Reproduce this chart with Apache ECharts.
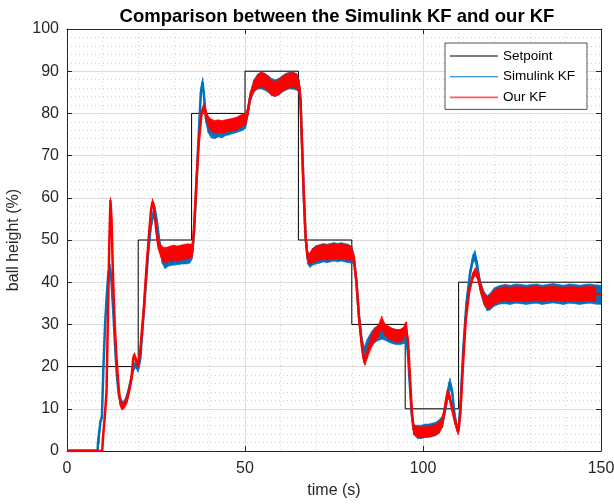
<!DOCTYPE html>
<html>
<head>
<meta charset="utf-8">
<script src="https://cdn.jsdelivr.net/npm/echarts@6/dist/echarts.min.js"></script>
<style>html,body{margin:0;padding:0;background:#fff}#c{width:614px;height:504px}</style>
</head>
<body>
<div id="c"></div>
<script>
var xTicks = [0, 50, 100, 150];
var yTicks = [0, 10, 20, 30, 40, 50, 60, 70, 80, 90, 100];

var setTime = [0, 20, 35, 50, 65, 80, 95, 110, 150];
var setVal  = [20, 50, 80, 90, 50, 30, 10, 40, 40];

// Simulink KF: centre of the noisy trace and half-height of its noise band
var simTime = [0, 8.6, 8.7, 9.0, 9.4, 9.8, 10.2, 10.7, 11.1, 11.6, 12.1, 12.5, 13, 13.5, 14, 14.6, 15.3, 15.8, 16.5, 17.2, 18, 18.6, 19.2, 20, 20.6, 21.3, 22, 22.8, 23.5, 24.2, 24.7, 25.3, 26, 26.7, 27.5, 28.5, 29.5, 30.5, 31.5, 32.5, 33.5, 34.5, 35.2, 35.7, 36.3, 37, 37.6, 38.1, 38.5, 39, 39.6, 40.5, 41.5, 42.5, 43.5, 44.5, 45.5, 46.5, 47.5, 48.5, 49.5, 50.2, 50.8, 51.5, 52.5, 53.5, 54.5, 55.5, 56.5, 57.5, 58.5, 59.5, 60.5, 61.5, 62.5, 63.5, 64.5, 65.2, 65.6, 66, 66.5, 67, 67.6, 68.2, 69, 70, 71, 72, 73, 74, 75, 76, 77, 78, 79, 80, 80.6, 81.3, 82, 82.8, 83.5, 84.3, 85.5, 86.5, 87.5, 88.5, 89.5, 90.5, 91.5, 92.5, 93.5, 94.5, 95.2, 95.7, 96.2, 96.8, 97.4, 98.5, 99.5, 100.5, 101.5, 102.5, 103.5, 104.5, 105.5, 106.5, 107.2, 107.6, 108.2, 108.8, 109.5, 110, 110.6, 111.3, 112.2, 113.2, 114, 114.6, 115.2, 116, 117, 118, 119, 120, 121.5, 123, 124.5, 126, 127.5, 129, 130.5, 132, 133.5, 135, 136.5, 138, 139.5, 141, 142.5, 144, 145.5, 147, 148.5, 150];
var simVal  = [0, 0, 2, 2, 7, 8, 19, 30, 36, 42, 43.5, 40, 33, 25, 18, 13, 11.5, 11, 12, 14, 17, 19.5, 20.5, 19.5, 22, 30, 38, 47, 53, 56, 57, 54, 49, 46, 45, 45.8, 46, 46.3, 46.2, 46.5, 46.3, 46.7, 47, 52, 62, 75, 85, 87.5, 84, 79, 77, 76, 75.8, 76.2, 76, 76.5, 76.7, 77, 77.2, 77.5, 77.8, 78, 80.5, 84, 86.5, 87.5, 87.8, 87.5, 87, 86.3, 86, 86.3, 87, 87.5, 87.8, 87.7, 87.5, 86.5, 83, 73, 61, 51, 45.5, 45, 46, 46.5, 46.7, 47, 46.8, 47, 47.2, 47, 47.2, 47, 46.8, 46.5, 45.5, 40, 32, 26, 23.5, 25, 26.5, 27.5, 28, 28.3, 28, 27.5, 27.2, 27, 27, 27.2, 27, 24, 17, 9, 5, 4.5, 4.5, 4.8, 4.8, 5, 5.2, 5.8, 7, 11, 15, 16, 14, 9, 5.5, 5, 12, 24, 35, 42, 45.5, 46.3, 44, 39.5, 36.5, 35, 35.5, 36.5, 37, 37.2, 37, 37.3, 37.2, 37, 37.2, 37.3, 37, 37.2, 37.4, 37.2, 37, 37.3, 37.2, 37, 37.2, 37.3, 37.1, 37];
var simNoise = [0.3, 0.3, 0.3, 0.3, 0.5, 0.5, 0.5, 0.5, 0.6, 0.8, 0.8, 0.6, 0.5, 0.5, 0.5, 0.6, 0.7, 0.7, 0.7, 0.7, 0.8, 0.8, 0.8, 0.8, 0.6, 0.5, 0.5, 0.6, 0.8, 1.0, 1.0, 1.0, 1.2, 1.5, 1.8, 2.0, 2.0, 2.2, 2.0, 2.2, 2.0, 2.2, 1.5, 0.6, 0.5, 0.6, 0.8, 1.0, 1.0, 1.2, 1.5, 1.8, 1.8, 1.8, 1.8, 1.8, 1.8, 1.8, 1.8, 1.8, 1.8, 1.5, 1.2, 1.2, 1.5, 1.8, 2.0, 2.0, 2.0, 2.0, 2.0, 2.0, 2.0, 2.0, 2.0, 2.0, 2.0, 1.5, 0.8, 0.6, 0.6, 0.8, 1.2, 1.5, 2.0, 2.2, 2.2, 2.2, 2.2, 2.2, 2.2, 2.2, 2.2, 2.2, 2.2, 2.0, 1.2, 0.8, 0.8, 1.0, 1.2, 1.5, 1.8, 1.8, 1.8, 1.8, 1.8, 1.8, 1.8, 1.8, 1.8, 1.8, 1.5, 0.8, 0.6, 0.8, 1.2, 1.6, 1.6, 1.6, 1.6, 1.6, 1.6, 1.6, 1.4, 1.2, 1.2, 1.2, 1.0, 0.8, 0.8, 0.8, 0.6, 0.6, 0.6, 0.8, 1.0, 1.2, 1.2, 1.4, 1.6, 1.8, 2.0, 2.2, 2.2, 2.3, 2.3, 2.3, 2.3, 2.3, 2.3, 2.3, 2.3, 2.3, 2.3, 2.3, 2.3, 2.3, 2.3, 2.3, 2.3, 2.3, 2.3, 2.3];

// Our KF: centre of the noisy trace and half-height of its noise band
var ourTime = [0, 9.9, 10.1, 10.6, 11.1, 11.5, 11.9, 12.2, 12.5, 12.9, 13.4, 13.9, 14.5, 15, 15.4, 16, 16.8, 17.5, 18.1, 18.6, 19, 19.6, 20, 20.5, 21, 21.6, 22.3, 23, 23.6, 24, 24.4, 25, 25.6, 26.3, 27, 28, 29, 30, 31, 32, 33, 34, 35.2, 35.7, 36.3, 37, 37.8, 38.4, 39, 39.7, 40.5, 41.5, 42.5, 43.5, 44.5, 45.5, 46.5, 47.5, 48.5, 49.5, 50.2, 50.8, 51.5, 52.5, 53.5, 54.5, 55.5, 56.5, 57.5, 58.5, 59.5, 60.5, 61.5, 62.5, 63.5, 64.5, 65.2, 65.6, 66, 66.5, 67, 67.5, 68, 69, 70, 71, 72, 73, 74, 75, 76, 77, 78, 79, 80, 80.6, 81.3, 82, 82.8, 83.3, 83.7, 84.3, 85.5, 86.5, 87.5, 88.4, 89.2, 90.5, 91.5, 92.5, 93.5, 94.5, 95.1, 95.4, 95.8, 96.3, 96.9, 97.4, 98.5, 99.5, 100.5, 101.5, 102.5, 103.5, 104.5, 105.5, 106.3, 106.8, 107.4, 108.2, 109, 109.9, 110.5, 111.2, 112, 113, 114, 114.7, 115.4, 116.2, 117.2, 118.3, 119, 120, 121.5, 123, 124.5, 126, 127.5, 129, 130.5, 132, 133.5, 135, 136.5, 138, 139.5, 141, 142.5, 144, 145.5, 147, 148.5, 150];
var ourVal  = [0, 0, 3, 8, 14, 32, 50, 59.5, 55, 42, 30, 22, 15, 11.2, 10.5, 10.8, 12, 14.5, 17, 22, 22.5, 21, 20.5, 23, 28, 34, 43, 51, 57, 59, 58, 53, 49, 47.5, 46.5, 46.5, 46.8, 47, 46.8, 47, 47.2, 47.3, 47.5, 53, 63, 73, 80, 81.5, 80, 78, 77.2, 76.8, 77, 76.8, 77, 77.2, 77.3, 77.5, 78, 78.5, 78.5, 80.5, 84, 86.5, 87.5, 88, 87.7, 87, 86, 85.8, 86.3, 87, 87.5, 87.8, 88, 87.5, 86.5, 83, 73, 61, 51, 46.5, 45.5, 46.3, 46.8, 47, 47.2, 47, 47.2, 47.3, 47.2, 47.3, 47.2, 47, 46.8, 45.5, 40, 32, 25, 22, 21.3, 23, 26, 27.5, 28.5, 30.5, 28.8, 28, 27.5, 27.3, 27.3, 27.8, 29.5, 29.8, 26, 18, 9, 5, 4.5, 4.4, 4.5, 4.6, 4.8, 5, 5.5, 7, 11, 13.5, 13, 10, 7, 4.5, 9, 20, 31, 38, 41.5, 42.5, 41.5, 38.5, 36, 35, 35.5, 36.5, 37, 37.3, 37.1, 37.3, 37.2, 37.1, 37.3, 37.4, 37.1, 37.3, 37.4, 37.2, 37.1, 37.3, 37.2, 37.1, 37.3, 37.3, 37.2, 37.2];
var ourNoise = [0.2, 0.2, 0.4, 0.5, 0.5, 0.5, 0.6, 0.6, 0.6, 0.5, 0.5, 0.5, 0.6, 0.7, 0.8, 0.8, 0.8, 0.8, 0.8, 0.8, 0.8, 0.8, 0.8, 0.6, 0.5, 0.5, 0.5, 0.6, 0.8, 0.8, 0.8, 1.0, 1.2, 1.5, 1.8, 1.8, 1.8, 1.8, 1.8, 1.8, 1.8, 1.8, 1.5, 0.6, 0.5, 0.6, 0.8, 0.9, 1.0, 1.3, 1.5, 1.5, 1.5, 1.5, 1.5, 1.5, 1.5, 1.5, 1.5, 1.5, 1.3, 1.0, 1.0, 1.3, 1.6, 1.8, 1.8, 1.8, 1.8, 1.8, 1.8, 1.8, 1.8, 1.8, 1.8, 1.8, 1.3, 0.7, 0.5, 0.5, 0.7, 1.0, 1.3, 1.7, 1.8, 1.8, 1.8, 1.8, 1.8, 1.8, 1.8, 1.8, 1.8, 1.8, 1.6, 1.0, 0.6, 0.6, 0.8, 1.0, 1.0, 1.2, 1.5, 1.5, 1.5, 1.5, 1.5, 1.5, 1.5, 1.5, 1.5, 1.5, 1.0, 0.8, 0.6, 0.5, 0.6, 1.0, 1.3, 1.3, 1.3, 1.3, 1.3, 1.3, 1.3, 1.2, 1.0, 1.0, 1.0, 0.8, 0.8, 0.7, 0.6, 0.5, 0.5, 0.6, 0.8, 1.0, 1.0, 1.2, 1.4, 1.5, 1.6, 1.7, 1.7, 1.7, 1.7, 1.7, 1.7, 1.7, 1.7, 1.7, 1.7, 1.7, 1.7, 1.7, 1.7, 1.7, 1.7, 1.7, 1.7, 1.7, 1.7];

function pairs(t, v) { return t.map(function (x, i) { return [x, v[i]]; }); }
// one quad per pair of neighbouring samples: [t0, lo0, hi0, t1, lo1, hi1]
function segments(t, v, n) {
  var out = [];
  for (var i = 0; i < t.length - 1; i++) {
    out.push([t[i], v[i] - n[i], v[i] + n[i], t[i + 1], v[i + 1] - n[i + 1], v[i + 1] + n[i + 1]]);
  }
  return out;
}

var axisColor = '#262626';
var font = 'Liberation Sans, Arial, Helvetica, sans-serif';
var BLUE = '#0072BD', RED = '#FF0000';

function bandSeries(name, t, v, n, color, z) {
  return {
    name: name, type: 'custom', silent: true, clip: true, z: z,
    dimensions: ['t0', 'lo0', 'hi0', 't1', 'lo1', 'hi1'],
    encode: {x: [0, 3], y: [1, 2, 4, 5]},
    data: segments(t, v, n),
    renderItem: function (params, api) {
      var a = api.coord([api.value(0), api.value(1)]);
      var b = api.coord([api.value(3), api.value(4)]);
      var c = api.coord([api.value(3), api.value(5)]);
      var d = api.coord([api.value(0), api.value(2)]);
      var cs = params.coordSys;
      return {
        type: 'polygon', shape: {points: [a, b, c, d]},
        style: {fill: color, stroke: color, lineWidth: 0.5},
        clipPath: {type: 'rect', shape: {x: cs.x, y: cs.y, width: cs.width, height: cs.height}}
      };
    }
  };
}

var series = [
  bandSeries('simBand', simTime, simVal, simNoise, BLUE, 2),
  {
    name: 'Simulink KF', type: 'line', showSymbol: false, symbol: 'none',
    data: pairs(simTime, simVal), color: BLUE,
    lineStyle: {color: BLUE, width: 2.5}, z: 2
  },
  bandSeries('ourBand', ourTime, ourVal, ourNoise, RED, 3),
  {
    name: 'Our KF', type: 'line', showSymbol: false, symbol: 'none',
    data: pairs(ourTime, ourVal), color: RED,
    lineStyle: {color: RED, width: 2.5}, z: 3
  },
  {
    name: 'Setpoint', type: 'line', step: 'end', showSymbol: false, symbol: 'none',
    data: pairs(setTime, setVal), color: '#000',
    lineStyle: {color: '#000', width: 1}, z: 1
  }
];

var chart = echarts.init(document.getElementById('c'), null, {renderer: 'canvas'});
chart.setOption({
  animation: false,
  backgroundColor: '#fff',
  title: {
    text: 'Comparison between the Simulink KF and our KF',
    left: 332, top: 2, textAlign: 'center',
    textStyle: {fontFamily: font, fontSize: 18.5, fontWeight: 'bold', color: '#000'}
  },
  grid: {left: 67, right: 13, top: 29, bottom: 53, containLabel: false, outerBoundsMode: 'none'},
  legend: {
    orient: 'vertical', left: 445, top: 43,
    backgroundColor: '#fff', borderColor: axisColor, borderWidth: 0.8, borderRadius: 0,
    padding: [6, 12, 5, 5], itemGap: 6.7, itemWidth: 48, itemHeight: 14,
    textStyle: {fontFamily: font, fontSize: 13.5, color: '#000', lineHeight: 14},
    data: [
      {name: 'Setpoint', icon: 'path://M0,6.5 L48,6.5 L48,7.5 L0,7.5 Z', itemStyle: {color: '#000'}},
      {name: 'Simulink KF', icon: 'path://M0,6.5 L48,6.5 L48,7.5 L0,7.5 Z', itemStyle: {color: BLUE}},
      {name: 'Our KF', icon: 'path://M0,6.2 L48,6.2 L48,7.8 L0,7.8 Z', itemStyle: {color: '#ff5a5a'}}
    ]
  },
  xAxis: [{
    type: 'value', min: 0, max: 150, interval: 50,
    name: 'time (s)', nameLocation: 'middle', nameGap: 32,
    nameTextStyle: {fontFamily: font, fontSize: 16, color: axisColor},
    axisLine: {show: true, lineStyle: {color: axisColor, width: 1}},
    axisTick: {show: true, inside: true, length: 5, lineStyle: {color: axisColor}},
    axisLabel: {fontFamily: font, fontSize: 16, color: axisColor, margin: 10},
    splitLine: {show: true, lineStyle: {color: '#dcdcdc', width: 1}},
    minorTick: {show: false, splitNumber: 5},
    minorSplitLine: {show: true, lineStyle: {color: '#d2d2d2', width: 1, type: [1, 3]}}
  }, {
    type: 'value', min: 0, max: 150, interval: 50, position: 'top',
    axisLine: {show: true, onZero: false, lineStyle: {color: axisColor, width: 1}},
    axisTick: {show: true, inside: true, length: 5, lineStyle: {color: axisColor}},
    axisLabel: {show: false}, splitLine: {show: false}
  }],
  yAxis: [{
    type: 'value', min: 0, max: 100, interval: 10,
    name: 'ball height (%)', nameLocation: 'middle', nameGap: 36,
    nameTextStyle: {fontFamily: font, fontSize: 16, color: axisColor},
    axisLine: {show: true, lineStyle: {color: axisColor, width: 1}},
    axisTick: {show: true, inside: true, length: 5, lineStyle: {color: axisColor}},
    axisLabel: {fontFamily: font, fontSize: 16, color: axisColor, margin: 8},
    splitLine: {show: true, lineStyle: {color: '#dcdcdc', width: 1}},
    minorTick: {show: false, splitNumber: 5},
    minorSplitLine: {show: true, lineStyle: {color: '#d2d2d2', width: 1, type: [1, 3]}}
  }, {
    type: 'value', min: 0, max: 100, interval: 10, position: 'right',
    axisLine: {show: true, onZero: false, lineStyle: {color: axisColor, width: 1}},
    axisTick: {show: true, inside: true, length: 5, lineStyle: {color: axisColor}},
    axisLabel: {show: false}, splitLine: {show: false}
  }],
  series: series
});
</script>
</body>
</html>
